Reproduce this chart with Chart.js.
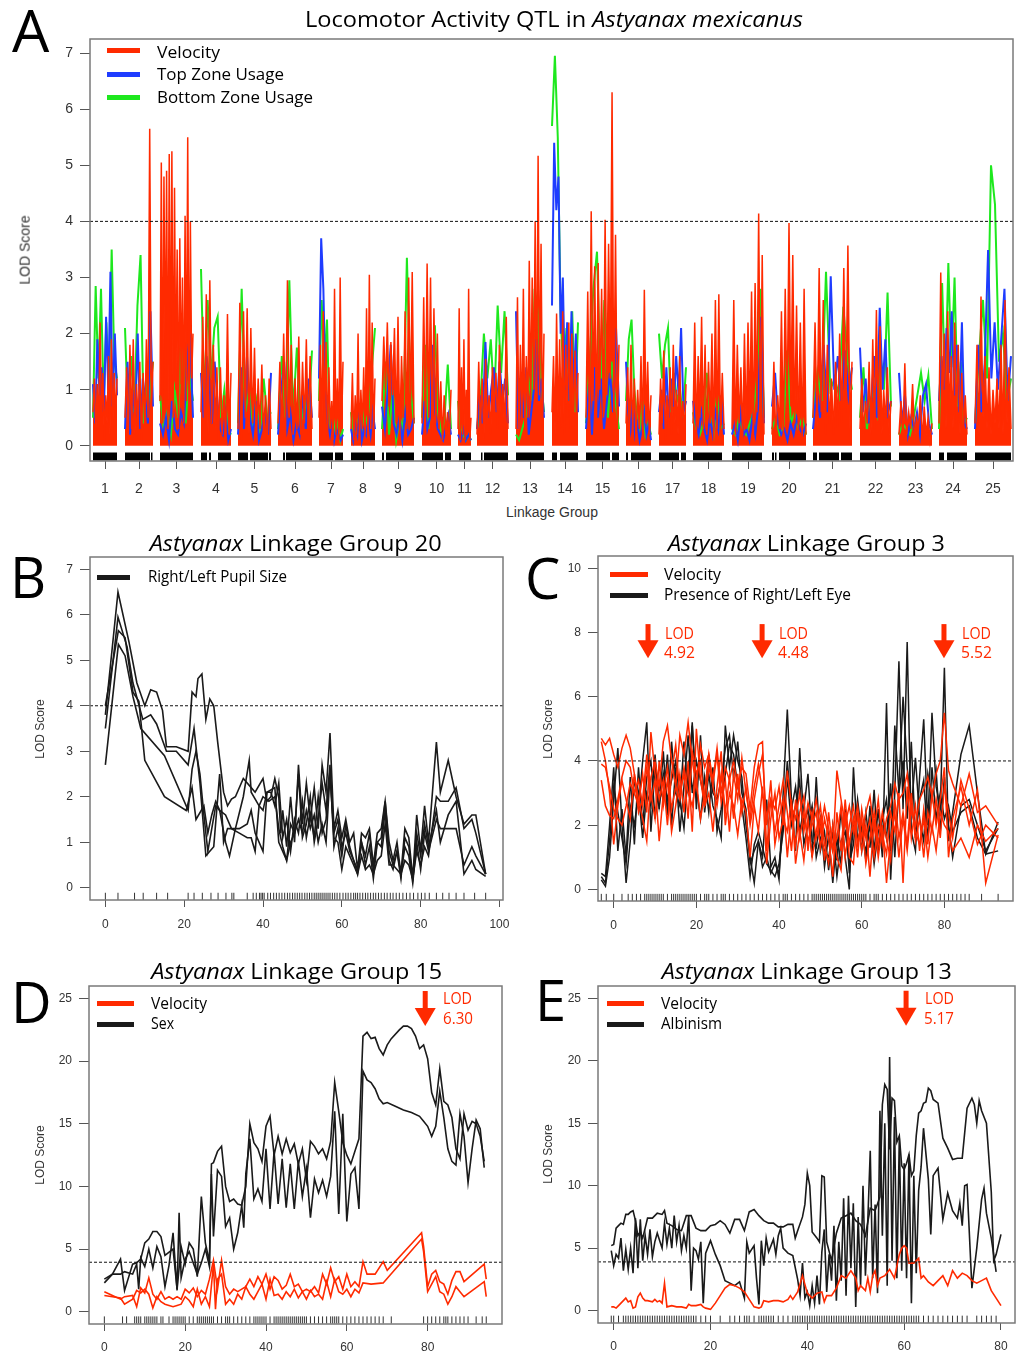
<!DOCTYPE html>
<html><head><meta charset="utf-8"><title>Locomotor Activity QTL in Astyanax mexicanus</title>
<script src="https://cdn.jsdelivr.net/npm/chart.js@4.4.1/dist/chart.umd.min.js"></script>
<style>
html,body{margin:0;padding:0;background:#fff;}
#wrap{position:relative;width:1026px;height:1353px;overflow:hidden;background:#fff;}
canvas{position:absolute;}
.t{position:absolute;white-space:nowrap;line-height:1;font-family:'Open Sans',sans-serif;color:#000;}
.sw{position:absolute;height:5px;}
</style></head><body><div id="wrap">
<canvas id="cA"></canvas><canvas id="cB"></canvas><canvas id="cC"></canvas><canvas id="cD"></canvas><canvas id="cE"></canvas>
</div>
<script>
// ---------------- Panel A data ----------------
const groupLabels = ['1','2','3','4','5','6','7','8','9','10','11','12','13','14','15','16','17','18','19','20','21','22','23','24','25'];
const groupStart = [3,35,70,111,148,188,229,261,292,332,368,387,426,462,496,536,569,603,642,682,723,770,809,849,885];
const groupEnd   = [27,63,103,141,181,222,253,285,324,361,381,418,454,488,529,561,596,634,674,716,762,801,842,877,921];
const markerBlocks = [[3,27],[35,60],[61,62.5],[70,103],[111,117],[119,121],[128,141],[148,158],[160,178],[179,181],[193,195],[196,222],[229,243],[245,253],[261,285],[292,294],[296,324],[332,353],[355,361],[369,381],[391,392.5],[394,418],[426,454],[462,467],[470,488],[496,520],[522,529],[536,538],[541,561],[569,589],[591,596],[603,632],[642,672],[682,684],[685,686.5],[689,716],[723,727],[729,749],[751,762],[770,801],[809,841],[849,854],[857,877],[885,921]];
const velocityLOD = [
[0.6,1.2,0.2,1.1,0.3,2.2,0.5,1.3,0.1,0.9,0.4,1.6,0.2,1.9,0.3,1.3,0.5,1.2],
[0.5,1.4,0.2,1.8,0.3,1.9,0.2,1.1,0.4,1.5,0.1,1.3,0.3,1.9,0.5,5.65,0.6,1.5],
[0.8,5.05,0.4,4.8,1.2,4.9,0.3,5.2,0.9,5.25,0.5,4.6,1.0,3.5,0.3,3.7,1.1,3.0,0.4,4.1,0.8,5.5,0.3,4.0,1.2,2.0],
[0.6,2.3,0.3,2.7,0.2,2.95,0.4,1.8,0.3,1.4,0.1,1.4,0.2,0.9,0.1,2.35,0.2,1.3],
[0.3,2.55,0.1,2.4,0.5,2.45,0.2,2.1,0.4,1.75,0.1,1.2,0.3,1.45,0.2,0.9,0.1,1.2,0.3],
[0.4,1.5,0.2,2.0,0.3,2.95,0.5,1.8,0.2,1.2,0.3,1.95,0.2,1.5,0.4,1.9,0.2,1.6,0.3],
[0.5,1.8,0.2,2.4,0.4,1.85,0.1,1.4,0.3,0.8,0.1,2.8,0.2,1.2,0.1,3.0,0.3,1.5],
[0.3,1.3,0.1,0.9,0.2,2.0,0.1,1.0,0.3,1.4,0.2,2.45,0.1,3.05,0.3,2.2,0.2,1.2],
[0.8,1.95,1.0,2.2,0.7,1.85,0.9,2.1,0.4,2.3,0.2,1.6,0.5,2.4,0.3,3.0,0.6,3.1,0.4],
[0.4,2.65,0.3,3.25,0.5,3.0,0.2,2.45,0.4,2.0,0.3,1.15,0.1,0.9,0.2,0.6,0.1,1.0],
[0.3,2.45,0.1,1.4,0.2,1.9,0.1,1.0,0.2,2.8,0.1,0.5],
[0.2,1.5,0.3,1.2,0.1,1.55,0.4,0.9,0.2,1.4,0.6,1.3,0.3,1.8,0.5,1.1,0.2,2.3,0.3],
[0.3,2.65,0.2,1.8,0.4,2.8,0.2,1.6,0.5,3.3,0.8,3.0,1.0,4.0,0.6,5.17,0.9,3.6,0.3,2.0],
[0.6,1.6,0.2,2.36,0.4,1.9,0.3,2.4,0.2,1.8,0.5,2.2,0.3,2.0,0.2,1.7,0.4,1.3],
[0.5,2.75,0.3,4.18,0.8,3.2,0.4,3.26,1.0,2.8,0.5,4.03,0.9,3.6,1.2,6.3,0.6,3.76,0.3,1.8],
[0.4,1.4,0.2,1.8,0.3,1.2,0.1,1.0,0.3,1.6,0.2,2.78,0.4,1.5,0.2,0.9],
[0.2,1.2,0.4,1.7,0.1,0.9,0.3,1.4,0.2,1.8,0.4,1.0,0.2,1.6,0.3,0.8,0.2,1.1],
[0.4,2.2,0.2,1.6,0.5,2.3,0.3,1.8,0.2,1.5,0.4,2.0,0.1,2.6,0.3,2.7,0.2,1.3,0.3],
[0.3,2.6,0.2,1.8,0.4,1.4,0.1,2.0,0.3,2.2,0.5,2.75,0.2,2.9,0.6,4.14,0.3,3.4,0.2],
[0.2,1.5,0.1,0.9,0.3,2.4,0.2,2.8,0.5,3.97,0.7,3.4,0.4,2.5,0.2,2.2,0.1,2.8,0.2],
[0.5,2.2,0.3,3.17,0.6,2.6,0.2,1.8,0.4,1.2,0.2,1.5,0.3,2.0,0.4,3.17,0.6,3.57,0.3,1.5],
[0.3,1.2,0.2,0.8,0.4,1.5,0.2,1.9,0.3,2.42,0.5,2.13,0.2,1.0,0.4,1.4,0.2,0.8],
[0.2,0.8,0.1,1.47,0.2,0.6,0.3,1.1,0.1,0.5,0.3,0.9,0.1,0.7,0.2,0.5,0.1,0.4],
[0.4,3.09,0.6,2.0,0.3,2.4,0.5,1.6,0.3,2.2,0.4,1.8,0.2,1.3,0.3,0.9,0.2],
[0.4,1.8,0.2,2.66,0.5,1.6,0.3,1.4,0.2,1.0,0.4,1.2,0.3,1.8,0.2,2.6,0.4,1.4,0.3]
];
const topZoneLOD = [
[1.1,0.4,1.9,0.9,1.4,0.6,2.3,1.0,3.1,0.7,2.0,0.9],
[0.3,1.5,0.2,1.0,0.5,2.0,0.3,1.2,0.8,0.4,2.4,0.7],
[0.4,0.2,0.5,0.1,0.8,0.3,0.2,0.6,0.4,1.5,2.0,0.5],
[1.3,0.5,1.6,1.2,0.4,1.5,0.8,0.3,0.2,0.6,0.1,0.3],
[0.2,1.4,0.3,1.6,0.5,0.2,0.8,0.1,0.3,0.6,0.2,1.3],
[0.2,1.0,1.5,0.3,0.6,0.1,0.4,0.2,0.9,0.3,1.2,0.5],
[1.2,3.7,2.8,1.0,0.4,0.2,0.5,0.1,0.3,0.2,0.1,0.2],
[0.3,0.1,0.4,0.2,0.6,0.1,0.3,0.2,0.5,0.2,0.6,0.3],
[0.7,0.3,1.0,1.8,0.4,0.2,0.5,0.1,0.6,0.2,0.3,0.5],
[0.2,0.8,0.3,0.5,1.8,0.6,0.3,0.2,0.1,0.3,0.55,0.2],
[0.2,0.1,0.3,0.1,0.2,0.1],
[0.3,0.9,0.4,1.85,0.5,1.0,1.4,0.6,1.5,0.8,1.2,0.4],
[2.4,0.3,1.0,0.5,1.4,0.2,0.6,1.0,1.9,0.8,1.2,0.5],
[2.5,5.4,4.2,4.8,2.0,3.0,1.0,2.2,0.8,2.4,1.0,2.0,0.6],
[0.3,1.1,0.2,1.4,0.5,1.2,0.3,0.8,1.3,0.6,2.1,0.7],
[1.5,0.6,0.3,0.8,0.2,0.4,0.1,0.3,0.6,0.2,0.4,0.1],
[0.6,1.0,0.3,1.4,0.5,1.2,0.7,1.6,0.9,2.1,0.6,0.8],
[0.8,0.4,0.2,0.6,0.3,0.1,0.5,0.2,0.6,0.3,0.9,0.2],
[0.2,0.4,0.1,0.6,0.2,0.3,0.1,0.5,0.2,0.7,2.3,0.4],
[0.7,1.3,0.4,0.2,0.3,0.1,0.4,0.2,0.5,0.3,0.2,0.4],
[0.3,1.0,0.5,1.8,0.6,3.02,1.0,1.6,0.8,1.7,0.9,1.4],
[1.75,0.6,1.2,0.4,0.8,1.6,0.5,2.46,1.0,1.9,0.6,0.8],
[1.3,0.4,0.9,0.2,0.5,0.3,0.6,0.2,0.9,1.1,0.4,0.2],
[0.8,1.6,1.0,2.1,1.3,2.4,0.9,1.8,0.6,2.2,0.4,0.3],
[0.3,1.8,0.6,1.5,3.49,1.2,2.2,1.0,1.9,2.8,0.8,1.6]
];
const bottomZoneLOD = [
[0.5,2.85,1.2,2.8,0.8,2.2,1.0,3.5,1.5,1.2],
[2.1,0.5,1.6,0.6,2.5,3.4,0.4,1.3,0.9,1.5],
[0.9,0.3,0.6,0.2,1.0,0.5,2.3,0.4,1.3,0.8],
[3.15,0.8,2.6,1.2,2.1,2.3,0.5,1.0,0.3,0.2],
[0.4,2.8,0.6,1.0,0.3,0.8,0.2,1.2,0.5,0.6],
[0.3,1.6,0.5,2.95,0.6,1.75,0.4,0.8,0.5,1.7],
[0.8,2.6,1.5,2.25,0.3,0.6,0.2,0.4,0.1,0.3],
[0.6,0.2,0.4,0.5,0.3,0.6,0.4,0.8,1.5,2.1],
[0.3,1.5,0.2,1.0,0.1,0.5,0.3,3.35,1.0,0.4],
[0.5,1.8,0.3,0.9,2.15,0.6,0.2,0.5,1.45,0.3],
[0.8,0.3,0.2,0.1,0.2,0.1],
[0.3,0.8,2.0,1.2,1.9,0.8,2.5,1.3,2.4,0.9],
[0.2,0.1,0.3,0.5,1.2,0.8,2.8,2.4,1.2,0.6],
[5.7,6.95,5.5,2.3,1.2,2.1,0.8,2.4,0.6,2.2],
[0.4,1.5,2.8,3.46,1.0,2.6,0.5,1.5,0.8,0.3],
[0.8,1.9,2.25,1.0,0.5,0.3,0.8,0.2,0.4,0.2],
[2.0,1.2,1.8,2.1,0.6,1.3,0.8,1.0,0.5,1.4],
[0.6,0.3,0.2,0.4,1.3,0.5,0.2,0.9,0.3,0.4],
[0.3,0.2,0.5,0.3,0.2,0.4,0.6,1.2,2.8,0.5],
[0.3,0.5,0.2,0.3,1.7,0.4,0.6,0.3,0.5,0.2],
[0.5,1.3,0.8,3.1,1.0,1.2,0.9,2.48,1.5,1.0],
[0.5,1.4,0.3,0.8,1.0,0.6,1.6,1.0,2.73,0.7],
[0.2,0.4,0.3,0.2,0.5,0.9,1.3,0.8,1.25,0.3],
[0.3,2.9,1.0,3.26,1.4,3.0,0.7,1.5,0.4,0.5],
[0.4,1.6,2.6,1.2,5.0,4.3,1.5,2.0,0.8,1.2]
];

// ---------------- Panel B data (LG20, pupil size) ----------------
const pupilLine1 = [[0,3.8],[3.2,6.5],[6,5.4],[8,4.5],[10,4.0],[11.5,4.35],[13,4.3],[14.5,3.9],[15.5,3.1],[18,3.1],[21,3.0],[22,4.3],[23,4.2],[23.5,4.6],[24.5,4.7],[25.5,3.7],[26.5,4.15],[27.5,4.0],[28.5,3.2],[30,2.1],[31,1.8],[32,1.95],[33,2.0],[35,2.4],[37,2.2],[38,2.1],[40,2.4],[41,1.9],[42,2.0],[43,2.4],[44,2.0],[44.5,1.2],[45,1.7],[46,0.9],[47,2.0],[48,1.0],[49,2.7],[50,1.4],[51,2.3],[52,1.5],[53,2.2],[54,1.3],[55,2.7],[56,2.1],[57,3.4],[58,1.3],[59,1.7],[60,1.1],[61,1.5],[62,1.0],[63,1.2],[64,0.4],[65,1.2],[66,1.1],[67,1.3],[68,0.5],[69,1.2],[70,1.3],[71,1.9],[72,1.0],[73,0.6],[74,1.0],[75,0.3],[76,1.3],[77,1.1],[78,0.2],[79,1.6],[80,0.8],[81,1.8],[82,1.0],[84,3.2],[85,2.1],[87,2.8],[89,2.0],[91,1.4],[93,1.6],[94,1.6],[96.5,0.3]];
const pupilLine2 = [[0,3.5],[3.2,5.95],[5.5,5.3],[7,4.5],[9.5,3.7],[11.5,3.8],[13,3.6],[15.5,3.0],[18,3.0],[21,2.7],[22.5,3.5],[24,2.3],[25.5,0.7],[27.5,0.9],[29,2.5],[30,1.0],[31,1.3],[34,1.3],[36,1.4],[37,1.7],[38,1.2],[40,0.8],[41,2.1],[43,2.2],[44,1.0],[46,0.6],[47,1.0],[48,1.2],[49,2.5],[50,1.1],[51,1.4],[52,2.0],[53,1.0],[54,1.5],[55,2.3],[56,1.7],[57,2.7],[58,0.9],[59,1.3],[60,0.7],[61,1.4],[62,0.9],[63,0.6],[64,0.3],[65,1.0],[66,0.5],[67,0.9],[68,0.2],[69,1.0],[70,0.9],[71,1.7],[72,0.6],[73,0.4],[74,0.8],[75,0.3],[76,0.9],[77,0.7],[78,0.1],[79,1.0],[80,0.4],[81,1.2],[82,0.8],[84,1.5],[85,1.3],[87,1.3],[89,1.3],[91,0.5],[93,0.9],[94,0.7],[96.5,0.3]];
const pupilLine3 = [[0,4.0],[3.3,5.65],[5,5.5],[7,4.3],[8.5,4.1],[10,2.8],[15,2.0],[20.5,1.7],[22,2.2],[23,1.5],[25,1.8],[26,1.2],[27,1.6],[28,1.9],[29,1.7],[30.5,1.6],[32,1.3],[34,1.2],[36,1.1],[37,1.1],[38,0.8],[39,1.8],[40,2.0],[41.5,1.9],[43,2.0],[44,1.3],[45,0.9],[46,0.6],[47,1.4],[48,1.2],[49,1.5],[50,1.2],[51,1.7],[52,1.3],[53,1.6],[54,1.0],[55,1.4],[56,1.0],[57,2.5],[58,1.1],[59,1.0],[60,0.4],[61,0.9],[62,0.7],[63,0.5],[64,0.3],[65,0.7],[66,0.4],[67,0.5],[68,0.3],[69,0.6],[70,0.7],[71,1.4],[72,0.5],[73,0.5],[74,0.4],[75,0.3],[76,0.6],[77,0.5],[78,0.2],[79,0.8],[80,0.5],[81,0.9],[82,0.7],[84,2.0],[85,1.9],[87,1.9],[89,2.2],[91,1.3],[93,1.5],[94,1.2],[96.5,0.3]];
const pupilLine4 = [[0,2.7],[3.3,5.35],[5,5.1],[7,4.2],[9,3.5],[15,2.9],[21,1.7],[22,2.6],[23,3.0],[24,2.5],[25,1.6],[26,0.8],[27,1.3],[28,1.8],[29,1.7],[30.5,1.0],[31.5,0.7],[33,1.3],[35,2.0],[36.5,2.8],[37,2.1],[39,1.8],[40,1.7],[41,2.1],[42,2.1],[43,1.8],[44,2.3],[45,1.1],[46,1.5],[47,0.8],[48,1.5],[49,1.2],[50,1.9],[51,1.1],[52,1.6],[53,1.1],[54,2.0],[55,1.2],[56,1.5],[57,2.6],[58,1.2],[59,1.5],[60,0.9],[61,1.2],[62,0.8],[63,0.6],[64,0.4],[65,1.0],[66,0.7],[67,1.2],[68,0.4],[69,1.0],[70,1.1],[71,1.9],[72,0.8],[73,0.5],[74,0.8],[75,0.2],[76,1.1],[77,0.9],[78,0.2],[79,1.2],[80,0.7],[81,1.4],[82,0.9],[84,1.7],[85,1.0],[87,1.6],[89,1.9],[91,0.3],[93,0.6],[94,0.4],[96.5,0.25]];
const markersLG20 = [0,3.2,7.4,9.6,13,15.8,21,22.5,24.6,26.8,28.6,30.6,32.1,32.6,36,37.5,38.3,39.1,39.5,39.9,40.3,41.2,41.9,42.7,43.4,44.1,44.8,45.5,46.2,46.8,47.5,48.1,48.7,49.3,49.9,50.6,51.2,51.8,52.4,53,53.5,54,54.5,55,55.5,56,56.5,57,57.6,58.2,58.8,59.5,60.3,61,61.6,62.3,63,63.5,64,64.6,65.3,66,66.6,67.3,68,68.6,69.3,70,70.8,71.5,72.3,73,73.8,74.6,75.5,76.4,77.3,78.2,79.3,80.2,81.1,82.2,84,85.6,87.2,89,91,93.7,96.5];

// ---------------- Panel C data (LG3) ----------------
const posLG3 = [-3,-2,-1,0,1,2,3,4,5,6,7,8,9,10,11,12,13,14,15,16,17,18,19,20,21,22,23,24,25,26,27,28,29,30,31,32,33,34,35,36,37,38,39,40,41,42,43,44,45,46,47,48,49,50,51,52,53,54,55,56,57,58,59,60,61,62,63,64,65,66,67,68,69,70,71,72,73,74,75,76,77,78,79,80,81,82,84,86,88,90,93];
const eyeLOD1 = [0.3,0.1,1.0,2.8,4.4,2.0,0.2,1.5,3.5,2.5,4.0,5.2,1.8,3.8,2.5,4.3,2.3,4.6,3.0,2.6,4.6,3.0,5.2,2.5,4.8,2.4,3.6,2.6,2.2,1.6,5.1,3.8,4.8,4.0,3.5,2.0,1.0,0.2,1.5,1.0,2.8,0.7,1.0,0.3,3.0,5.6,2.8,1.2,4.4,2.0,2.5,1.0,3.5,1.2,1.8,0.6,2.0,0.9,2.5,1.0,0.0,3.8,1.5,2.0,0.9,2.6,1.2,2.5,1.0,5.8,0.3,3.0,7.1,2.5,7.7,1.8,1.2,3.5,5.3,2.0,5.5,3.2,2.5,6.9,1.5,2.4,4.2,5.1,3.0,1.1,2.1];
const eyeLOD2 = [0.5,0.4,2.0,3.8,1.2,2.5,1.0,3.5,1.4,3.8,2.0,3.5,4.0,2.2,3.2,2.8,4.2,2.0,3.8,1.8,3.2,4.8,3.0,4.0,3.4,2.8,4.2,3.0,2.8,3.4,4.4,4.8,3.5,4.6,3.0,2.5,0.8,1.2,1.5,0.7,1.0,0.5,0.8,0.5,2.2,4.0,2.5,3.2,1.8,2.5,3.6,1.5,1.3,2.2,0.7,1.7,0.2,1.6,0.8,2.5,0.5,2.0,2.3,1.2,2.4,1.3,3.1,1.2,2.3,1.6,3.3,1.0,3.2,6.0,3.8,2.5,4.1,2.2,1.5,3.6,2.8,3.7,1.8,3.5,2.0,1.0,2.6,2.8,2.0,1.2,1.9];
const eyeLOD3 = [0.4,0.2,1.5,3.2,2.4,1.6,0.8,2.6,2.0,3.0,1.6,3.0,2.6,4.2,2.6,3.6,2.8,3.4,4.0,2.8,1.9,3.6,5.1,3.2,2.2,3.5,2.4,3.8,1.8,2.5,3.6,4.5,4.2,3.2,2.6,1.6,0.4,1.4,1.8,1.3,0.8,0.6,0.4,0.8,1.8,3.5,2.0,2.6,3.4,1.4,2.0,2.6,1.0,1.6,1.2,1.0,1.8,0.4,1.5,1.8,0.8,1.4,2.8,1.7,1.2,2.0,0.8,1.8,2.2,2.8,1.2,5.1,3.0,4.0,2.2,4.6,1.6,2.8,3.4,1.5,3.8,2.2,3.0,2.2,2.6,1.8,2.4,2.6,1.6,1.1,1.2];
const velLG3a = [4.7,4.5,4.7,4.2,3.8,4.4,4.8,4.4,3.6,2.8,2.2,1.5,3.5,4.0,3.2,4.6,5.1,4.0,3.2,4.8,4.2,5.2,4.0,3.2,4.5,3.8,4.2,3.4,4.4,3.0,3.8,3.4,4.0,3.2,3.8,3.6,2.5,3.8,4.5,4.6,1.2,2.8,2.5,3.2,2.0,3.7,2.6,2.2,3.0,1.8,2.7,2.2,2.8,1.8,2.6,1.9,1.2,3.7,2.8,2.0,2.6,1.8,2.6,1.6,2.4,2.9,1.8,2.8,1.4,2.2,2.6,3.3,2.8,3.0,3.6,2.4,2.0,2.8,3.1,3.5,2.9,3.6,4.0,5.5,3.7,3.3,2.6,3.6,2.4,2.6,2.0];
const velLG3b = [3.9,3.8,3.2,2.5,2.2,2.0,2.6,3.3,3.0,2.6,3.6,2.4,4.9,3.6,2.8,3.4,2.0,3.6,4.5,3.0,3.6,2.2,4.3,3.6,4.0,2.6,3.8,3.3,4.2,2.7,3.4,1.8,3.6,2.8,4.1,3.0,2.2,3.2,3.9,3.0,2.2,2.8,1.8,2.6,3.4,2.4,1.2,2.8,1.6,2.4,1.5,2.0,2.4,1.3,2.2,1.6,0.4,2.4,1.2,2.8,1.4,2.2,1.0,2.5,1.6,2.2,1.0,2.0,1.7,1.1,2.4,1.8,3.0,0.2,3.2,1.6,2.6,1.2,2.5,1.4,3.0,2.0,2.8,3.8,1.0,2.2,3.2,2.0,3.1,0.2,1.7];
const velLG3c = [3.4,2.6,2.3,2.2,2.8,3.5,4.0,3.8,3.0,3.4,2.6,3.8,2.8,3.4,1.5,3.0,3.8,2.5,3.2,2.8,3.8,3.0,2.6,3.4,2.2,3.0,4.2,3.2,2.6,3.6,2.4,3.5,2.2,3.6,2.4,3.2,2.0,2.8,3.6,4.2,2.0,3.4,1.4,2.2,2.8,1.0,2.4,1.4,2.4,2.9,1.2,2.4,1.6,2.2,0.9,2.4,1.2,1.6,2.6,1.0,2.0,2.6,1.4,2.2,0.8,1.6,2.4,1.4,2.4,1.6,0.9,2.8,1.6,2.4,1.4,3.0,1.5,2.2,1.0,2.4,1.8,2.8,1.6,3.2,2.4,1.6,3.4,2.5,1.4,2.0,1.6];
const velLG3d = [4.6,4.0,3.0,1.4,2.6,3.4,2.8,2.2,3.6,2.4,2.8,4.2,3.0,2.2,4.0,2.6,3.4,1.8,2.6,3.6,2.4,4.0,1.8,5.0,3.4,2.6,3.0,1.8,3.2,4.3,2.0,3.0,2.6,1.7,2.8,2.4,1.0,2.6,1.8,3.2,0.8,2.2,3.0,1.6,2.2,1.8,2.8,0.8,1.8,0.9,2.2,1.0,1.8,2.6,1.4,0.8,2.0,1.0,0.6,2.4,1.0,0.8,2.4,1.2,2.0,0.4,2.2,1.0,2.0,0.2,1.6,2.4,1.0,2.2,1.2,2.6,1.8,1.4,2.2,1.0,2.0,1.2,2.4,2.0,1.8,1.2,1.6,1.0,2.0,1.5,1.9];
const markersLG3 = [-3,-1.8,0,2,3.5,4.5,5.5,6.5,7.5,8,8.5,9,9.5,10,10.5,11,11.5,12,13,14,14.5,15,15.5,16,16.5,17,17.5,18,18.5,19,19.5,20,21,22,22.5,23,24,25,26,26.5,27,28,29,30,31,32,33,34,35,36,37,38,39,40,41,41.5,42,43,44,45,46,47,48,48.5,49,49.5,50,50.5,51,51.5,52,52.5,53,53.5,54,54.5,55,55.5,56,56.5,57,57.5,58,58.5,59,59.5,60,60.5,61,62,63,63.5,64,65,66,67,68,69,70,71,72,73,74,75,76,77,78,79,80,81,82,83,84,85,86,89,93];

// ---------------- Panel D data (LG15) ----------------
const sexLine1 = [[0,2.6],[2,3.0],[4,4.2],[5,1.7],[7,3.8],[8,3.9],[9,4.2],[10,5.5],[11,5.8],[12,6.4],[13,6.4],[14,6.0],[15,4.5],[17,5.0],[18,1.8],[19,5.2],[20,3.8],[21,5.5],[22,5.0],[23,2.8],[24,9.2],[25,5.5],[26,4.0],[26.5,11.8],[27,11.9],[28,12.8],[29,13.2],[30,10.0],[31,8.8],[32,9.0],[33,8.6],[34,8.5],[35,10.0],[36,15.0],[37,13.5],[38,13.0],[39,12.0],[40,14.8],[41,15.6],[42,12.5],[43,14.0],[44,12.6],[45,13.8],[46,12.7],[47,13.4],[48,11.8],[49,13.0],[50,10.5],[51,13.6],[52,13.2],[53,12.6],[54,13.0],[55,12.2],[56,13.6],[57,18.3],[58,16.0],[59,13.5],[60,12.5],[61,11.8],[62,12.8],[63,13.8],[64,22.0],[65,22.3],[66,21.8],[67,21.9],[68,21.0],[69,20.5],[70,21.3],[71,21.8],[73,22.5],[74,22.8],[75,22.8],[76,22.6],[77,22.0],[78,21.0],[79,21.3],[80,20.2],[81,17.5],[82,16.5],[83,19.4],[84,16.8],[85,16.5],[86,15.5],[87,13.0],[88,12.2],[89,15.8],[90,14.5],[91,15.2],[92,15.0],[93,14.0],[94,12.0]];
const sexLine2 = [[0,2.3],[2,3.0],[4,3.0],[5,3.2],[7,3.0],[8,3.8],[8.5,1.8],[9,4.3],[10,3.6],[11,5.0],[12,3.5],[13,5.2],[14,4.4],[15,2.0],[16,3.7],[17,6.3],[18,1.7],[18.5,7.9],[19,2.7],[20,4.2],[21,4.8],[22,3.9],[23,3.0],[24,3.9],[25,5.0],[26,3.6],[26.5,11.0],[27,6.0],[28,11.3],[29,10.8],[30,6.8],[31,7.5],[32,5.0],[33,6.3],[34,8.5],[34.5,6.7],[35,11.0],[36,13.8],[37,9.0],[38,9.8],[39,8.8],[40,13.0],[41,8.2],[42,12.8],[43,8.6],[44,12.2],[45,8.3],[46,11.8],[47,8.2],[48,12.0],[49,9.2],[50,11.4],[51,7.5],[52,10.6],[53,9.5],[54,10.5],[55,9.2],[56,10.8],[57,16.0],[58,7.8],[59,15.8],[60,7.2],[61,11.0],[62,11.5],[63,8.2],[64,19.2],[65,18.5],[66,18.3],[67,17.8],[68,17.0],[69,16.6],[70,16.7],[72,16.4],[74,16.1],[76,15.9],[78,15.6],[79,15.2],[80,14.8],[81,14.0],[82,14.8],[83,17.6],[84,15.5],[85,13.0],[86,12.0],[87,11.7],[88,15.8],[89,14.0],[90,10.3],[91,13.0],[92,15.3],[93,14.6],[94,11.5]];
const velLG15a = [[0,1.6],[2,1.3],[4,1.0],[5,1.2],[7,1.3],[8,0.4],[9,1.9],[10,1.5],[11,2.7],[12,1.4],[13,1.0],[14,1.6],[15,1.0],[16,1.2],[17,1.0],[18,1.2],[19,1.0],[20,1.8],[21,1.5],[22,1.9],[23,1.2],[24,1.7],[25,1.4],[26,2.6],[27,4.1],[28,1.8],[29,4.1],[30,2.0],[31,1.4],[32,1.8],[33,1.6],[34,1.8],[35,2.0],[36,2.6],[37,2.0],[38,2.8],[39,2.2],[40,3.0],[41,1.8],[42,2.8],[43,2.5],[44,1.8],[45,2.1],[46,3.0],[47,2.0],[48,2.2],[49,1.6],[50,1.8],[51,1.6],[52,2.0],[53,1.5],[54,3.0],[55,2.2],[56,3.5],[57,2.4],[58,2.8],[59,1.8],[60,3.0],[61,2.0],[62,2.4],[63,2.0],[64,4.0],[65,3.0],[67,3.0],[69,4.0],[70,3.3],[78.5,6.3],[79,5.2],[80,2.0],[81,3.0],[82,3.3],[83,2.4],[84,2.2],[85,1.4],[86,2.5],[87,3.2],[88,3.2],[89,2.4],[94,3.8],[94.5,2.6]];
const velLG15b = [[0,1.3],[2,1.2],[4,1.1],[5,0.6],[7,1.0],[8,1.7],[9,1.5],[10,1.8],[11,1.4],[12,0.3],[13,1.2],[14,0.8],[15,0.6],[16,0.5],[17,0.4],[18,0.5],[19,0.6],[20,1.2],[21,0.9],[22,0.4],[23,1.8],[24,0.6],[25,1.2],[26,0.4],[27,3.8],[27.5,0.2],[28,2.6],[29,3.0],[30,0.6],[31,1.0],[32,0.6],[33,1.4],[34,1.0],[35,2.0],[36,1.4],[37,1.0],[38,1.6],[39,2.2],[40,1.0],[41,2.6],[42,1.3],[43,1.4],[44,1.0],[45,1.6],[46,1.2],[47,1.8],[48,1.1],[49,1.6],[50,1.0],[51,1.7],[52,1.2],[53,1.4],[54,1.0],[55,2.4],[56,1.2],[57,2.6],[58,1.6],[59,1.4],[60,1.8],[61,1.2],[62,1.8],[63,1.5],[64,2.3],[66,2.2],[69,2.3],[78.5,5.8],[79,4.8],[80,1.6],[81,2.2],[82,2.8],[83,1.6],[84,1.4],[85,0.6],[86,1.2],[87,2.0],[88,1.6],[89,1.2],[94,2.4],[94.5,1.2]];
const markersLG15 = [0,4.5,5.5,7.5,8,8.5,9,10,10.5,11,11.5,12,12.5,13,14,14.5,16,17,17.5,18,18.5,19,19.5,20,21,22,23,23.5,24,24.5,25,25.5,26,26.5,27,28,29,30,30.5,31,32,33,34,35,36,37,37.5,38,38.5,39,39.5,40,41,42,42.5,43,43.5,44,44.5,45,45.5,46,46.5,47,47.5,48,48.5,49,49.5,50,51,52,53,54,55,56,56.5,57,57.5,58,59,60,61,62,63,64,65,66,67,68,69,71,79,80,81,82,83,84,84.5,85,86,87,88,89,90,92,93.5,94.5];

// ---------------- Panel E data (LG13) ----------------
const albLine1 = [[-0.5,5.2],[0,5.3],[0.5,6.6],[1,6.8],[1.5,7.0],[2,6.9],[2.5,7.7],[3,7.7],[3.5,7.9],[4,8.0],[4.5,7.2],[5,6.0],[5.5,6.3],[6,5.8],[7,7.4],[8,7.4],[9,7.8],[10,7.7],[10.5,8.0],[11,7.0],[12,6.8],[13,6.5],[14,6.4],[15,7.6],[16,7.6],[17,6.6],[18,6.4],[19,6.4],[20,6.8],[21,6.9],[22,7.2],[23,6.9],[24,6.2],[25,7.3],[26,7.3],[27,6.4],[28,7.9],[29,8.1],[30,7.6],[31,7.2],[32,7.0],[33,7.0],[34,6.7],[35,6.7],[36,6.9],[37,6.9],[37.5,5.8],[38,6.4],[39,7.5],[39.5,8.5],[40,11.0],[40.5,10.0],[41,6.3],[42,5.8],[42.5,5.5],[43,10.8],[43.5,10.7],[44,5.5],[45,4.0],[46,6.2],[47,7.4],[48,7.6],[49,7.8],[50,7.2],[51,6.9],[52,6.0],[53,8.2],[54,8.0],[55,9.1],[55.5,16.5],[56,18.1],[56.5,17.7],[57,12.9],[57.5,17.0],[58,16.8],[58.5,13.5],[59,14.0],[59.5,11.6],[60,11.3],[60.5,11.8],[61,12.5],[61.5,10.8],[62,11.2],[62.5,14.0],[63,15.8],[63.5,16.0],[64,16.6],[64.5,16.7],[65,17.8],[65.5,17.6],[66,16.9],[67,16.6],[68,13.8],[69,13.0],[70,12.1],[71,12.2],[72,12.2],[73,16.2],[74,17.0],[74.5,16.5],[75,15.0],[75.5,16.8],[76,16.0],[77,15.0],[78,9.5],[78.5,4.0],[79,4.5],[80,6.1]];
const albLine2 = [[-0.5,4.8],[0,3.6],[0.5,4.5],[1,4.2],[1.5,5.8],[2,3.2],[2.5,4.9],[3,3.3],[3.5,5.0],[4,3.0],[4.5,7.4],[5,3.4],[5.5,7.3],[6,4.0],[6.5,6.0],[7,4.5],[7.5,6.5],[8,4.3],[8.5,5.5],[9,6.2],[10,5.0],[10.5,7.0],[11,5.3],[11.5,6.6],[12,5.0],[12.5,7.6],[13,5.5],[13.5,6.8],[14,4.8],[14.5,6.0],[15,5.0],[15.5,7.6],[16,1.6],[16.5,5.0],[17,4.8],[17.5,4.1],[18,5.5],[18.5,0.6],[19,4.6],[20,5.6],[21,4.5],[22,3.6],[23,2.4],[24,2.2],[25,2.0],[26,2.3],[27,1.0],[27.5,5.5],[28,4.6],[29,5.2],[29.5,2.6],[30,0.5],[30.5,5.6],[31,3.6],[31.5,5.8],[32,4.7],[33,5.7],[33.5,4.5],[34,6.0],[34.5,6.6],[35,5.0],[36,4.6],[37,4.4],[38,2.5],[38.5,1.2],[39,3.8],[39.5,1.0],[40,1.5],[40.5,0.4],[41,2.0],[41.5,0.6],[42,2.8],[42.5,0.5],[43,4.7],[43.5,6.5],[44,1.5],[44.5,4.5],[45,2.4],[45.5,6.8],[46,0.8],[46.5,5.5],[47,2.4],[47.5,9.0],[48,1.2],[48.5,9.2],[49,3.4],[49.5,8.6],[50,0.3],[50.5,7.5],[51,2.0],[51.5,10.0],[52,2.8],[52.5,7.3],[53,12.8],[53.5,2.6],[54,8.5],[54.5,1.4],[55,16.0],[55.5,6.0],[56,15.0],[56.5,2.0],[57,20.3],[57.5,4.0],[58,15.5],[58.5,2.6],[59,13.8],[59.5,3.2],[60,11.8],[60.5,2.6],[61,12.5],[61.5,0.6],[62,10.8],[62.5,3.0],[63,9.6],[63.5,11.5],[64,14.6],[65,10.5],[65.5,6.1],[66,10.8],[67,11.4],[68,7.3],[69,9.4],[70,8.0],[71,7.4],[71.5,8.6],[72,6.8],[72.5,10.0],[73,10.1],[74,1.8],[75,5.0],[76,8.9],[76.5,9.8],[77,7.8],[78,5.8],[79,3.1]];
const velLG13 = [[-0.5,0.3],[0,0.3],[0.5,0.2],[1,0.4],[1.5,0.6],[2,0.8],[2.5,1.0],[3,0.7],[3.5,0.8],[4,0.2],[4.5,0.3],[5,1.1],[5.5,1.4],[6,1.0],[6.5,0.8],[7,0.8],[8,0.7],[8.5,0.9],[9,0.7],[9.5,0.8],[10,0.6],[10.5,2.2],[11,0.3],[12,0.4],[13,0.3],[14,0.3],[15,0.2],[15.5,0.5],[16,0.4],[17,0.4],[18,0.5],[18.5,0.3],[19,0.2],[20,0.1],[21,0.6],[22,1.2],[23,1.8],[24,2.1],[25,2.0],[26,1.8],[27,1.5],[28,0.9],[29,0.3],[30,0.2],[30.5,0.3],[31,0.8],[32,0.7],[33,0.8],[34,0.8],[35,0.7],[36,0.9],[36.5,1.2],[37,0.9],[38,1.5],[39,2.8],[40,1.4],[41,1.0],[42,1.4],[43,1.5],[43.5,0.7],[44,1.2],[45,1.2],[46,1.8],[47,2.8],[48,2.6],[49,3.2],[50,2.6],[50.5,1.6],[51,2.0],[52,1.6],[52.5,2.6],[53,1.5],[53.5,2.8],[54,3.2],[54.5,2.0],[55,2.6],[56,2.8],[57,3.3],[58,2.6],[59,4.5],[59.5,5.0],[60,5.2],[60.5,5.0],[61,3.8],[62,3.8],[63,4.2],[63.5,2.6],[64,2.8],[65,2.3],[66,2.0],[67,2.4],[68,2.8],[69,2.0],[70,3.2],[71,2.6],[72,3.0],[73,2.8],[74,2.4],[75,2.2],[76,2.4],[77,2.6],[78,1.6],[79,1.0],[80,0.4]];
const markersLG13 = [-0.5,0,1,2,2.5,3,3.5,4,4.5,5,5.5,6,6.5,7,7.5,8,8.5,9,9.5,10,10.5,11,11.5,12,12.5,13,13.5,14,14.5,15,15.5,16,16.5,17,18,19,20,22,24,25,26,27,27.5,28,29,30,30.5,31,31.5,32,32.5,33,34,35,36,37,37.5,38,38.5,39,39.5,40,40.5,41,41.5,42,42.5,43,43.5,44,44.5,45,45.5,46,46.5,47,47.5,48,48.5,49,49.5,50,50.5,51,51.5,52,52.5,53,53.5,54,54.5,55,55.5,56,56.5,57,57.5,58,58.5,59,59.5,60,60.5,61,61.5,62,62.5,63,64,65,66,67,68,69,70,71,72,73,75,76,77,78,79];

// ---------------- helpers ----------------
const RED='#ff2a00', BLUE='#1f3cff', GREEN='#1ee81e', BLK='#1a1a1a';
const wrap=document.getElementById('wrap');
const pairs = a => a.map(p=>({x:p[0],y:p[1]}));
const zipXY = (xs,ys) => xs.map((x,i)=>({x, y:ys[i]}));
function lineDS(data,color,width,order){return {data,borderColor:color,borderWidth:width,pointRadius:0,fill:false,order,tension:0,spanGaps:false};}
function rugDS(xs,y,order){return {data:xs.map(x=>({x,y})),showLine:false,pointStyle:'line',rotation:90,pointRadius:3.6,pointBorderColor:'#333',pointBorderWidth:1,borderColor:'#333',borderWidth:1,order};}
function hlineDS(y,xmin,xmax){return {data:[{x:xmin,y},{x:xmax,y}],borderColor:'#111',borderWidth:1,borderDash:[3,2],pointRadius:0,order:0};}
function groupSeries(vals){const out=[];vals.forEach((arr,g)=>{const s=groupStart[g],e=groupEnd[g],n=arr.length;arr.forEach((v,i)=>out.push({x:s+(e-s)*i/(n-1),y:v}));out.push({x:e+1,y:null});});return out;}

const boxPlugin={id:'box',afterDatasetsDraw(chart){const {ctx,chartArea:a}=chart;ctx.save();ctx.strokeStyle='#7a7a7a';ctx.lineWidth=1.5;ctx.strokeRect(a.left,a.top,a.right-a.left,a.bottom-a.top);ctx.restore();}};
function arrowPlugin(list){return {id:'arrows',afterDatasetsDraw(chart){const ctx=chart.ctx,xs=chart.scales.x,ys=chart.scales.y;ctx.save();ctx.fillStyle=RED;list.forEach(a=>{const x=xs.getPixelForValue(a.x),y0=ys.getPixelForValue(a.top),y1=ys.getPixelForValue(a.tip);const hh=18,hw=21,sw=5;ctx.fillRect(x-sw/2,y0,sw,(y1-hh)-y0+1);ctx.beginPath();ctx.moveTo(x-hw/2,y1-hh);ctx.lineTo(x+hw/2,y1-hh);ctx.lineTo(x,y1);ctx.closePath();ctx.fill();});ctx.restore();}};}

function makeChart(id,box,cfg,datasets,arrows){
  const yW=cfg.yW,xH=cfg.xH,padT=20,padR=18;
  const c=document.getElementById(id);
  const left=box.l-yW,top=box.t-padT,w=box.r-left+padR,h=box.b-top+xH;
  c.width=w;c.height=h;c.style.left=left+'px';c.style.top=top+'px';c.style.width=w+'px';c.style.height=h+'px';
  const tickFont={family:'Liberation Sans',size:cfg.fs};
  return new Chart(c,{type:'line',data:{datasets},options:{
    responsive:false,animation:false,events:[],devicePixelRatio:1,
    layout:{padding:{top:padT,right:padR,left:0,bottom:0}},
    plugins:{legend:{display:false},tooltip:{enabled:false},filler:{drawTime:'beforeDatasetsDraw'}},
    elements:{point:{radius:0},line:{tension:0}},
    scales:{
      x:{type:'linear',min:cfg.xmin,max:cfg.xmax,
        afterBuildTicks:s=>{s.ticks=cfg.xticks.map(v=>({value:v}));},
        afterFit:s=>{s.height=xH;},
        ticks:{autoSkip:false,maxRotation:0,minRotation:0,font:tickFont,color:'#333',padding:cfg.xpad,callback:cfg.xlabel||(v=>String(v))},
        grid:{drawOnChartArea:false,drawTicks:true,tickLength:cfg.xtl,color:'#555',lineWidth:1},
        border:{display:false}},
      y:{type:'linear',min:cfg.ymin,max:cfg.ymax,
        afterBuildTicks:s=>{s.ticks=cfg.yticks.map(v=>({value:v}));},
        afterFit:s=>{s.width=yW;},
        ticks:{autoSkip:false,font:tickFont,color:'#333',padding:cfg.ypad,callback:v=>String(v)},
        grid:{drawOnChartArea:false,drawTicks:true,tickLength:cfg.ytl,color:'#555',lineWidth:1},
        border:{display:false}}
    }},
    plugins:[boxPlugin,arrowPlugin(arrows||[])]});
}

const MET={'Open Sans':{cap:0.714,base:0.888},'Liberation Sans':{cap:0.716,base:0.8465}};
function T(html,o){
  const fam=o.font||'Open Sans',m=MET[fam],size=o.size;
  const d=document.createElement('div');d.className='t';d.innerHTML=html;
  d.style.fontFamily="'"+fam+"', sans-serif";d.style.fontSize=size+'px';
  if(o.color)d.style.color=o.color;
  wrap.appendChild(d);
  const w=d.getBoundingClientRect().width;
  if(o.rot){d.style.left=(o.x-w/2)+'px';d.style.top=(o.y-size/2)+'px';d.style.transform='rotate(-90deg)';d.style.transformOrigin='center center';return;}
  d.style.top=(o.y-(m.base-m.cap/2)*size)+'px';
  d.style.left=(o.align==='center'?o.x-w/2:o.x)+'px';
  d.style.transformOrigin=o.align==='center'?'center center':'left center';
  if(o.width){const k=Math.max(0.75,Math.min(1.25,o.width/w));d.style.transform='scaleX('+k.toFixed(3)+')';}
}
function S(x1,x2,y,color){const d=document.createElement('div');d.className='sw';d.style.left=x1+'px';d.style.top=(y-2.5)+'px';d.style.width=(x2-x1)+'px';d.style.background=color;wrap.appendChild(d);}

// ---------------- Panel A ----------------
const groupCenters=groupStart.map((s,i)=>(s+groupEnd[i])/2);
const A={xmin:0,xmax:923,ymin:-0.27,ymax:7.25};
const velSeries=groupSeries(velocityLOD);
// velocity area (drawn first, under the blue/green lines), velocity lines on top
const velArea={data:velSeries,borderColor:RED,borderWidth:0,pointRadius:0,fill:'origin',backgroundColor:RED,order:10,tension:0,spanGaps:false};
makeChart('cA',{l:90,t:39,r:1013,b:461},
  {yW:60,xH:40,fs:14,xmin:A.xmin,xmax:A.xmax,ymin:A.ymin,ymax:A.ymax,xticks:groupCenters,yticks:[0,1,2,3,4,5,6,7],
   xlabel:(v,i)=>groupLabels[i],xpad:12,xtl:8,ypad:7,ytl:10},
  [hlineDS(4,A.xmin,A.xmax),
   lineDS(velSeries,RED,1.5,1),
   lineDS(groupSeries(topZoneLOD),BLUE,2,2),
   lineDS(groupSeries(bottomZoneLOD),GREEN,2,3),
   velArea,
   Object.assign(lineDS(markerBlocks.flatMap(([a,b])=>[{x:a,y:-0.19},{x:b,y:-0.19},{x:b+0.05,y:null}]),'#000',8,4),{borderCapStyle:'butt'})]);

// ---------------- Panel B ----------------
const B={xmin:-3.9,xmax:100.9,ymin:-0.27,ymax:7.27};
makeChart('cB',{l:90,t:557,r:503,b:900},
  {yW:60,xH:40,fs:12,xmin:B.xmin,xmax:B.xmax,ymin:B.ymin,ymax:B.ymax,xticks:[0,20,40,60,80,100],yticks:[0,1,2,3,4,5,6,7],xpad:10,xtl:7,ypad:7,ytl:10},
  [hlineDS(4,B.xmin,B.xmax),
   lineDS(pairs(pupilLine1),BLK,1.6,1),lineDS(pairs(pupilLine2),BLK,1.6,1),lineDS(pairs(pupilLine3),BLK,1.6,1),lineDS(pairs(pupilLine4),BLK,1.6,1),
   rugDS(markersLG20,-0.19,5)]);

// ---------------- Panel C ----------------
const C={xmin:-3.8,xmax:96.6,ymin:-0.36,ymax:10.38};
makeChart('cC',{l:598,t:556,r:1013,b:901},
  {yW:60,xH:40,fs:12,xmin:C.xmin,xmax:C.xmax,ymin:C.ymin,ymax:C.ymax,xticks:[0,20,40,60,80],yticks:[0,2,4,6,8,10],xpad:10,xtl:7,ypad:7,ytl:10},
  [hlineDS(4,C.xmin,C.xmax),
   lineDS(zipXY(posLG3,velLG3a),RED,1.5,1),lineDS(zipXY(posLG3,velLG3b),RED,1.5,1),lineDS(zipXY(posLG3,velLG3c),RED,1.5,1),lineDS(zipXY(posLG3,velLG3d),RED,1.5,1),
   lineDS(zipXY(posLG3,eyeLOD1),BLK,1.5,2),lineDS(zipXY(posLG3,eyeLOD2),BLK,1.5,2),lineDS(zipXY(posLG3,eyeLOD3),BLK,1.5,2),
   rugDS(markersLG3,-0.25,5)],
  [{x:8.3,top:8.26,tip:7.2},{x:35.9,top:8.26,tip:7.2},{x:79.9,top:8.26,tip:7.2}]);

// ---------------- Panel D ----------------
const D={xmin:-3.8,xmax:98.4,ymin:-0.98,ymax:26.0};
makeChart('cD',{l:89,t:986,r:502,b:1324},
  {yW:60,xH:40,fs:12,xmin:D.xmin,xmax:D.xmax,ymin:D.ymin,ymax:D.ymax,xticks:[0,20,40,60,80],yticks:[0,5,10,15,20,25],xpad:9,xtl:7,ypad:7,ytl:10},
  [hlineDS(3.95,D.xmin,D.xmax),
   lineDS(pairs(velLG15a),RED,1.6,1),lineDS(pairs(velLG15b),RED,1.6,1),
   lineDS(pairs(sexLine1),BLK,1.6,2),lineDS(pairs(sexLine2),BLK,1.6,2),
   rugDS(markersLG15,-0.66,5)],
  [{x:79.4,top:25.6,tip:22.8}]);

// ---------------- Panel E ----------------
const E={xmin:-3.24,xmax:82.9,ymin:-0.99,ymax:25.98};
makeChart('cE',{l:598,t:986,r:1015,b:1323},
  {yW:60,xH:40,fs:12,xmin:E.xmin,xmax:E.xmax,ymin:E.ymin,ymax:E.ymax,xticks:[0,20,40,60,80],yticks:[0,5,10,15,20,25],xpad:9,xtl:7,ypad:7,ytl:10},
  [hlineDS(3.9,E.xmin,E.xmax),
   lineDS(pairs(velLG13),RED,1.6,1),
   lineDS(pairs(albLine1),BLK,1.6,2),lineDS(pairs(albLine2),BLK,1.6,2),
   rugDS(markersLG13,-0.69,5)],
  [{x:60.4,top:25.6,tip:22.8}]);

// ---------------- Text ----------------
T('A',{x:12,y:31,size:59});
T('B',{x:10,y:578,size:56});
T('C',{x:525,y:578.5,size:56});
T('D',{x:11,y:1002.5,size:56});
T('E',{x:535,y:1001,size:56});

T('Locomotor Activity QTL in <i>Astyanax mexicanus</i>',{x:554,y:19.5,size:21.5,align:'center',width:498});
T('<i>Astyanax</i> Linkage Group 20',{x:296,y:543,size:22,align:'center',width:292});
T('<i>Astyanax</i> Linkage Group 3',{x:806.5,y:542.5,size:22,align:'center',width:277});
T('<i>Astyanax</i> Linkage Group 15',{x:296.5,y:971,size:22,align:'center',width:291});
T('<i>Astyanax</i> Linkage Group 13',{x:807,y:971,size:22,align:'center',width:290});

S(107,140,50.5,RED);S(107,140,74,BLUE);S(107,140,97.5,GREEN);
T('Velocity',{x:157,y:51.7,size:17,width:63});
T('Top Zone Usage',{x:157,y:74.2,size:17,width:127});
T('Bottom Zone Usage',{x:157,y:97.5,size:17,width:156});

S(97,130,577,BLK);
T('Right/Left Pupil Size',{x:148,y:576.5,size:16,width:139});

S(610,648,574,RED);S(610,648,595,BLK);
T('Velocity',{x:664,y:574,size:16,width:57});
T('Presence of Right/Left Eye',{x:664,y:594.2,size:16,width:187});

S(97,134,1003,RED);S(97,134,1024,BLK);
T('Velocity',{x:150.7,y:1003.5,size:16,width:56});
T('Sex',{x:150.7,y:1023.5,size:16,width:23});

S(607,644,1003,RED);S(607,644,1024,BLK);
T('Velocity',{x:660.7,y:1003.5,size:16,width:56});
T('Albinism',{x:660.7,y:1023.5,size:16,width:61});

T('LOD',{x:665,y:633,size:16,color:RED,width:29});T('4.92',{x:664,y:652.5,size:16,color:RED,width:31});
T('LOD',{x:779.3,y:633,size:16,color:RED,width:29});T('4.48',{x:778.3,y:652.5,size:16,color:RED,width:31});
T('LOD',{x:961.7,y:633,size:16,color:RED,width:29});T('5.52',{x:961,y:652.5,size:16,color:RED,width:31});
T('LOD',{x:442.7,y:998.5,size:16,color:RED,width:29});T('6.30',{x:442.7,y:1018.2,size:16,color:RED,width:30});
T('LOD',{x:925,y:998.5,size:16,color:RED,width:29});T('5.17',{x:924.3,y:1018.2,size:16,color:RED,width:30});

T('LOD Score',{x:25,y:250,size:14,font:'Liberation Sans',rot:true,color:'#333'});
T('Linkage Group',{x:552,y:511.5,size:14,font:'Liberation Sans',align:'center',color:'#333'});
T('LOD Score',{x:39.5,y:729,size:12,font:'Liberation Sans',rot:true,color:'#333'});
T('LOD Score',{x:547.5,y:728.5,size:12,font:'Liberation Sans',rot:true,color:'#333'});
T('LOD Score',{x:40,y:1155,size:12,font:'Liberation Sans',rot:true,color:'#333'});
T('LOD Score',{x:548,y:1154,size:12,font:'Liberation Sans',rot:true,color:'#333'});
</script></body></html>
